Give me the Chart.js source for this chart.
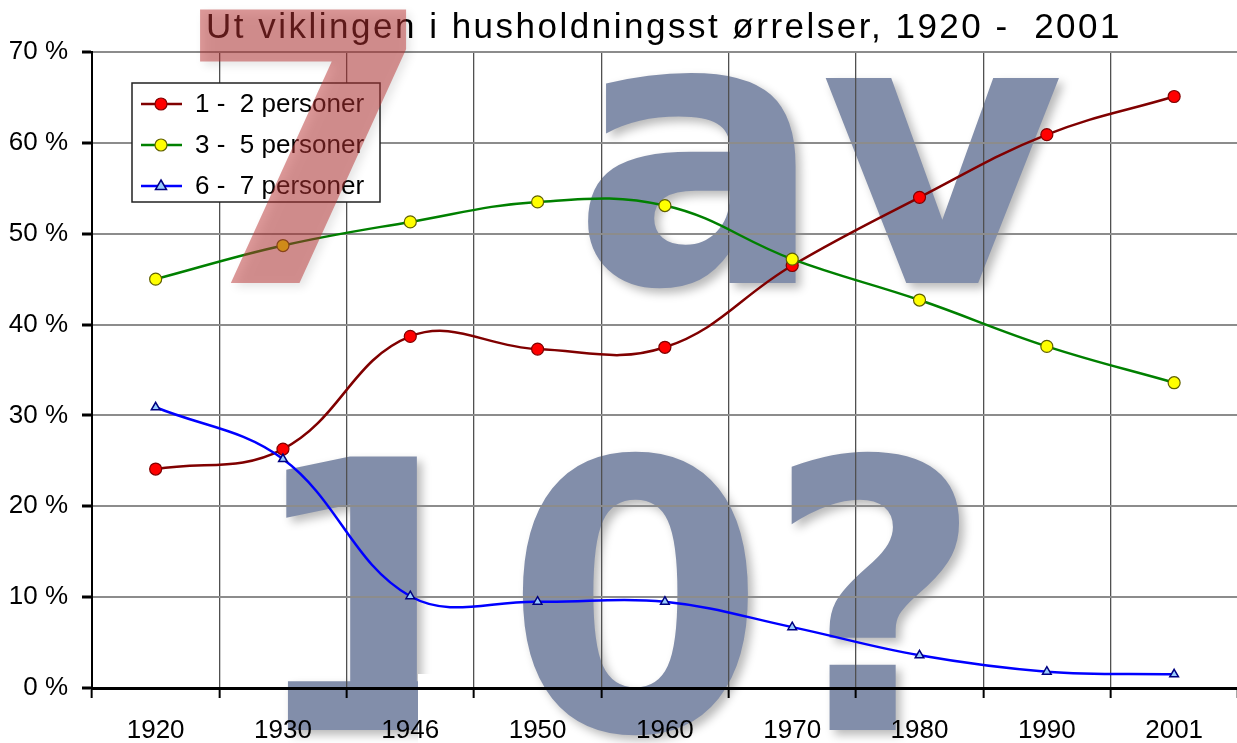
<!DOCTYPE html>
<html>
<head>
<meta charset="utf-8">
<script src="https://cdn.jsdelivr.net/npm/chart.js@4"></script>
<style>
html,body{margin:0;padding:0;background:#fff;overflow:hidden;}
canvas{display:block;}
</style>
</head>
<body>
<canvas id="c" width="1245" height="743" style="width:1245px;height:743px"></canvas>
<script>
const titleText = 'Ut viklingen i husholdningsst ørrelser, 1920 -  2001';
const years = ['1920','1930','1946','1950','1960','1970','1980','1990','2001'];
const seriesNames = ['1 -  2 personer','3 -  5 personer','6 -  7 personer'];
const small  = [24.1, 26.3, 38.7, 37.3, 37.5, 46.5, 54.0, 60.9, 65.1];
const medium = [45.0, 48.7, 51.3, 53.5, 53.1, 47.2, 42.7, 37.6, 33.6];
const large  = [30.9, 25.2, 10.1, 9.5, 9.5, 6.7, 3.6, 1.8, 1.5];
const yTicks = [0,10,20,30,40,50,60,70];

const FONT = "'Liberation Sans', Arial, sans-serif";

const watermarkBack = {
  id:'watermarkBack',
  beforeDraw(chart){
    const ctx = chart.ctx;
    ctx.save();
    ctx.fillStyle = '#fff';
    ctx.fillRect(0,0,chart.width,chart.height);
    ctx.font = "bold 375px 'DejaVu Sans'";
    ctx.textBaseline = 'alphabetic';
    ctx.textAlign = 'left';
    ctx.shadowColor = 'rgba(0,0,0,0.28)';
    ctx.shadowBlur = 10;
    ctx.shadowOffsetX = 5;
    ctx.shadowOffsetY = 5;
    ctx.fillStyle = 'rgb(130,142,170)';
    ctx.fillText('a', 572, 283);
    ctx.fillText('v', 820, 283);
    ctx.save();
    ctx.beginPath();
    ctx.rect(0, 0, chart.width, 674);
    ctx.rect(0, 674, 418, 80);
    ctx.rect(505, 674, chart.width, 80);
    ctx.clip();
    ctx.fillText('10?', 244, 730);
    ctx.restore();
    ctx.restore();
  }
};

function drawMarker(ctx, ds, x, y){
  ctx.save();
  ctx.fillStyle = ds.pointBackgroundColor;
  ctx.strokeStyle = ds.pointBorderColor;
  ctx.lineWidth = ds.pointBorderWidth;
  const r = ds.pointRadius;
  ctx.beginPath();
  if (ds.pointStyle === 'triangle'){
    ctx.moveTo(x, y - r*1.2);
    ctx.lineTo(x + r*1.1, y + r*0.7);
    ctx.lineTo(x - r*1.1, y + r*0.7);
    ctx.closePath();
  } else {
    ctx.arc(x, y, r, 0, Math.PI*2);
  }
  ctx.fill();
  ctx.stroke();
  ctx.restore();
}

const overlay = {
  id:'overlay',
  afterDraw(chart){
    const ctx = chart.ctx;
    ctx.save();
    ctx.fillStyle = '#fff';
    ctx.fillRect(132,83,248,119);
    ctx.strokeStyle = '#222';
    ctx.lineWidth = 1.5;
    ctx.strokeRect(132,83,248,119);
    const rows = [104,145,186];
    chart.data.datasets.forEach((ds,i)=>{
      const y = rows[i];
      ctx.strokeStyle = ds.borderColor;
      ctx.lineWidth = 2.5;
      ctx.beginPath();
      ctx.moveTo(141,y); ctx.lineTo(182,y); ctx.stroke();
      drawMarker(ctx, ds, 161, y);
      ctx.fillStyle = '#000';
      ctx.font = '26px ' + FONT;
      ctx.textBaseline = 'middle';
      ctx.textAlign = 'left';
      ctx.fillText(ds.label, 195, y+1);
    });
    ctx.fillStyle = '#000';
    ctx.font = '35px ' + FONT;
    ctx.textAlign = 'center';
    ctx.textBaseline = 'alphabetic';
    try { ctx.letterSpacing = '2.5px'; } catch(e){}
    ctx.fillText(titleText, 664, 38);
    try { ctx.letterSpacing = '0px'; } catch(e){}
    ctx.font = "bold 375px 'DejaVu Sans'";
    ctx.textAlign = 'left';
    ctx.shadowColor = 'rgba(0,0,0,0.2)';
    ctx.shadowBlur = 10;
    ctx.shadowOffsetX = 4;
    ctx.shadowOffsetY = 4;
    ctx.fillStyle = 'rgba(185,50,50,0.5)';
    ctx.fillText('7', 175, 283);
    ctx.restore();
  }
};

new Chart(document.getElementById('c'), {
  type:'line',
  data:{
    labels: years,
    datasets:[
      {label: seriesNames[0], data: small, borderColor:'#800000', borderWidth:2.5,
       pointStyle:'circle', pointRadius:6, pointBackgroundColor:'#ff0000', pointBorderColor:'#800000', pointBorderWidth:1.2,
       tension:0.4, order:2},
      {label: seriesNames[1], data: medium, borderColor:'#008000', borderWidth:2.5,
       pointStyle:'circle', pointRadius:6, pointBackgroundColor:'#ffff00', pointBorderColor:'#606000', pointBorderWidth:1.2,
       tension:0.4, order:1},
      {label: seriesNames[2], data: large, borderColor:'#0000ff', borderWidth:2.5,
       pointStyle:'triangle', pointRadius:5, pointBackgroundColor:'#99ccff', pointBorderColor:'#000080', pointBorderWidth:1.5,
       tension:0.38, order:0}
    ]
  },
  options:{
    responsive:false,
    animation:false,
    devicePixelRatio:1,
    layout:{padding:{top:52,left:0,right:1,bottom:0}},
    plugins:{legend:{display:false}, title:{display:false}, tooltip:{enabled:false}},
    scales:{
      x:{
        type:'category',
        offset:true,
        grid:{display:true, offset:true, color:'#505050', lineWidth:1.3, tickColor:'#000', tickWidth:2, tickLength:10},
        border:{display:true, color:'#000', width:3},
        ticks:{color:'#000', font:{size:26, family:FONT}, padding:17, maxRotation:0, autoSkip:false},
        afterFit(s){ s.height = 55; }
      },
      y:{
        min:0, max:70,
        afterBuildTicks(s){ s.ticks = yTicks.map(v=>({value:v})); },
        grid:{color:'#8c8c8c', lineWidth:2, tickColor:'#000', tickWidth:3, tickLength:10},
        border:{display:true, color:'#000', width:2},
        ticks:{color:'#000', font:{size:26, family:FONT}, padding:14, callback:(v)=>v+' %'},
        afterFit(s){ s.width = 92; }
      }
    }
  },
  plugins:[watermarkBack, overlay]
});
</script>
</body>
</html>
